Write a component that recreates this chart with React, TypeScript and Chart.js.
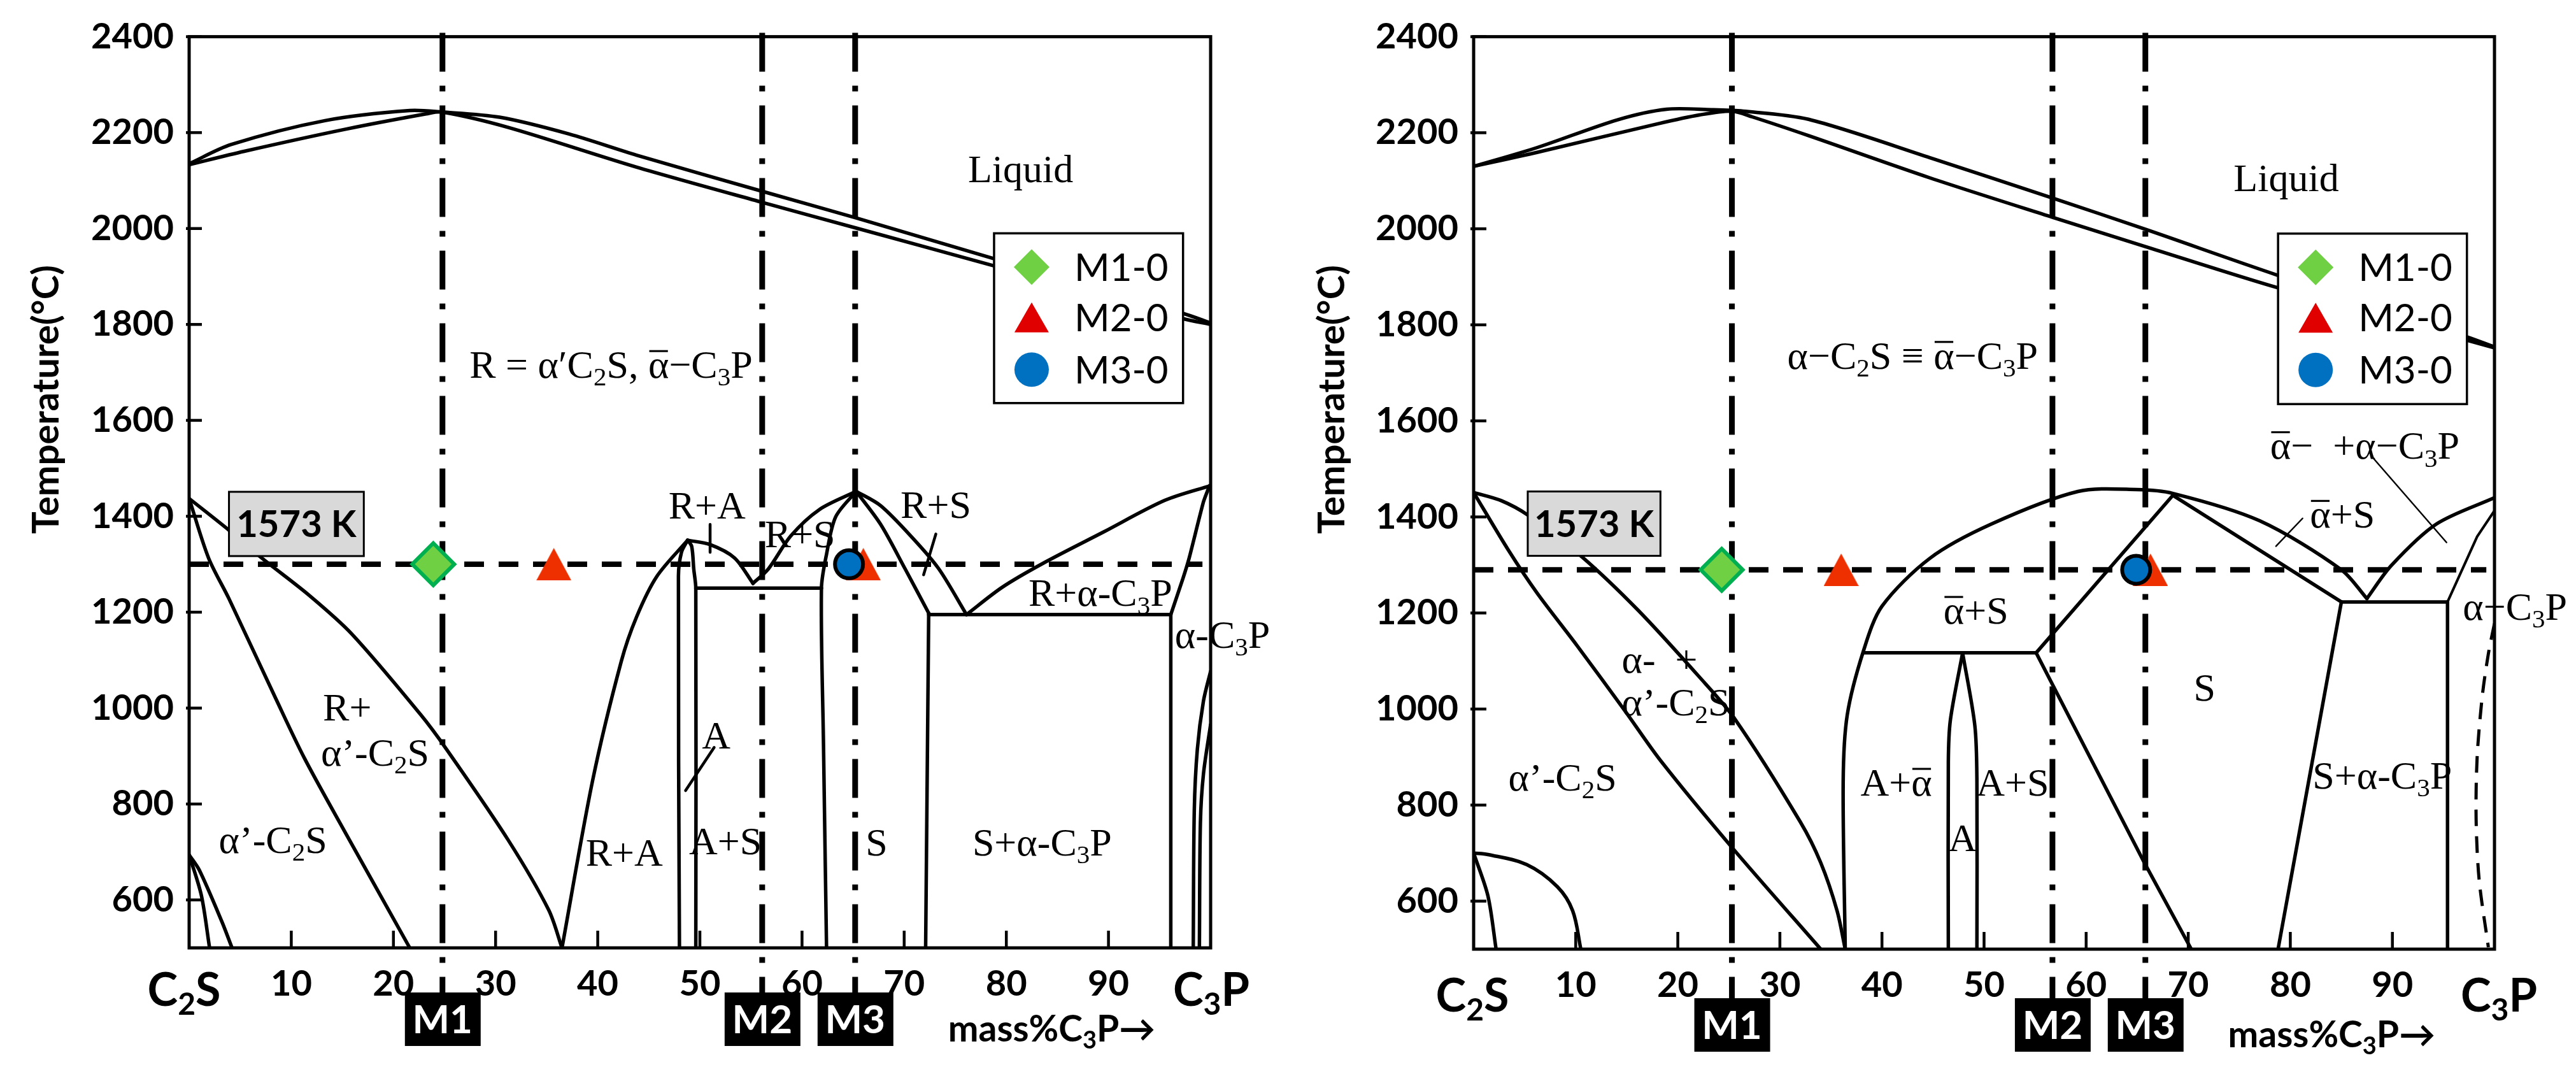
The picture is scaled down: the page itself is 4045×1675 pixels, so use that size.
import React, { useEffect, useRef } from 'react';
import { Chart, registerables } from 'chart.js';
Chart.register(...registerables);

type P = [number, number];

// ---------- shared text / ticks ----------
const xTickValues = [10, 20, 30, 40, 50, 60, 70, 80, 90];
const yTickValues = [600, 800, 1000, 1200, 1400, 1600, 1800, 2000, 2200, 2400];
const seriesNames = ['M1-0', 'M2-0', 'M3-0'];
const sampleNames = ['M1', 'M2', 'M3'];
const endLabels = ['C_2S', 'C_3P'];
const axisTitleX = 'mass%C_3P→';
const axisTitleY = 'Temperature(°C)';
const isoLabel = '1573 K';

// ---------- LEFT panel data ----------
const L_mLines = [24.8, 56.1, 65.2];
const L_isoT = 1300;
const L_M1: P[] = [[23.9, 1300]];
const L_M2: P[] = [[35.7, 1300], [66.0, 1300]];
const L_M3: P[] = [[64.6, 1300]];

const L_liqUpper: P[] = [[0, 2135], [4.1, 2175], [13.3, 2225], [21.6, 2246], [24.7, 2243], [30.4, 2232], [37.2, 2197], [43.8, 2153], [56.2, 2077], [65.3, 2022], [78.8, 1937], [97.3, 1823], [100, 1803]];
const L_liqLower: P[] = [[0, 2133], [5.4, 2161], [15.3, 2207], [23.2, 2239], [24.7, 2243], [31.2, 2211], [43.8, 2128], [56.2, 2054], [65.3, 2001], [78.8, 1922], [97.3, 1812], [100, 1800]];
const L_curveA: P[] = [[0, 1437], [3.9, 1371], [7.1, 1313], [11.7, 1236], [15.9, 1155], [22.6, 988], [25.2, 914], [31.2, 726], [35.2, 579], [36.5, 500]];
const L_curveB: P[] = [[0, 1437], [1.9, 1313], [3.9, 1228], [8.5, 1019], [11.3, 895], [15.3, 740], [21.6, 500]];
const L_low1: P[] = [[0, 694], [1.0, 662], [3.2, 555], [4.2, 500]];
const L_low2: P[] = [[0, 694], [1.2, 609], [2.0, 500]];
const L_RAleft: P[] = [[36.5, 500], [39.5, 849], [42.3, 1097], [43.8, 1190], [45.8, 1275], [48.8, 1350]];
const L_RAright: P[] = [[48.8, 1350], [51.0, 1341], [53.4, 1313], [55.2, 1260]];
const L_RSleft: P[] = [[55.2, 1260], [56.7, 1290], [58.9, 1359], [61.7, 1414], [65.3, 1452]];
const L_RSright: P[] = [[65.3, 1452], [67.7, 1422], [70.9, 1353], [73.4, 1290], [76.1, 1195]];
const L_RaC3P: P[] = [[76.1, 1195], [79.6, 1252], [83.6, 1302], [89.5, 1367], [95.5, 1433], [100, 1464]];
const L_Sleft: P[] = [[65.3, 1452], [63.3, 1399], [62.4, 1321], [61.9, 1250], [62.1, 926], [62.4, 500]];
const L_SrightTop: P[] = [[65.3, 1452], [67.7, 1383], [70.1, 1290], [72.4, 1198]];
const L_SrightV: P[] = [[72.4, 1198], [72.1, 500]];
const L_tie1: P[] = [[49.6, 1250], [61.9, 1250]];
const L_tie2: P[] = [[72.4, 1195], [96.1, 1195]];
const L_Aleft: P[] = [[48.0, 500], [47.9, 1275], [48.2, 1325], [48.8, 1350]];
const L_Aright: P[] = [[49.6, 500], [49.6, 1250], [49.4, 1290], [49.2, 1337], [48.8, 1350]];
const L_vert96: P[] = [[96.1, 1195], [96.1, 500]];
const L_C3Pline: P[] = [[96.1, 1195], [97.3, 1271], [97.9, 1313], [99.3, 1430], [99.9, 1464]];
const L_right1: P[] = [[100, 1077], [99.3, 1015], [98.7, 914], [98.4, 786], [98.3, 500]];
const L_right2: P[] = [[100, 966], [99.3, 863], [99.0, 761], [98.9, 500]];
const L_ptrRA: P[] = [[51.0, 1383], [51.0, 1325]];
const L_ptrA: P[] = [[51.4, 918], [48.6, 828]];
const L_ptrRS: P[] = [[73.1, 1363], [71.9, 1278]];

const L_labels = [
  { t: 'Liquid', x: 81.4, y: 2124, a: 'center' },
  { t: 'R = α′C_2S, ~α−C_3P', x: 41.3, y: 1716, a: 'center' },
  { t: 'R+A', x: 50.7, y: 1422, a: 'center' },
  { t: 'R+S', x: 59.8, y: 1363, a: 'center' },
  { t: 'R+S', x: 73.1, y: 1424, a: 'center' },
  { t: 'R+α-C_3P', x: 89.2, y: 1240, a: 'center' },
  { t: 'α-C_3P', x: 96.5, y: 1153, a: 'left' },
  { t: 'A', x: 51.6, y: 943, a: 'center' },
  { t: 'A+S', x: 52.5, y: 723, a: 'center' },
  { t: 'S', x: 67.3, y: 720, a: 'center' },
  { t: 'S+α-C_3P', x: 83.5, y: 720, a: 'center' },
  { t: 'R+A', x: 42.6, y: 698, a: 'center' },
  { t: 'R+', x: 13.1, y: 1002, a: 'left' },
  { t: 'α’-C_2S', x: 12.9, y: 907, a: 'left' },
  { t: 'α’-C_2S', x: 2.9, y: 725, a: 'left' },
];

// ---------- RIGHT panel data ----------
const R_mLines = [25.3, 56.7, 65.8];
const R_isoT = 1290;
const R_M1: P[] = [[24.3, 1290]];
const R_M2: P[] = [[36.0, 1290], [66.3, 1290]];
const R_M3: P[] = [[64.9, 1290]];

const R_liqUpper: P[] = [[0, 2130], [6.2, 2169], [14.1, 2227], [18.9, 2249], [23.3, 2248], [26.4, 2245], [32.8, 2228], [44.7, 2148], [56.7, 2064], [65.8, 1999], [78.8, 1903], [97.3, 1775], [100, 1754]];
const R_liqLower: P[] = [[0, 2130], [6.2, 2159], [18.1, 2219], [22.1, 2237], [25.3, 2245], [27.3, 2233], [32.8, 2194], [44.7, 2106], [56.7, 2024], [65.8, 1963], [78.8, 1877], [97.3, 1768], [100, 1752]];
const R_curveA: P[] = [[0, 1451], [2.7, 1434], [5.3, 1404], [10.5, 1319], [16.1, 1206], [22.1, 1067], [25.5, 982], [32.0, 765], [34.0, 680], [35.6, 580], [36.4, 500]];
const R_curveB: P[] = [[0, 1451], [3.4, 1331], [6.2, 1242], [10.1, 1133], [14.9, 994], [18.3, 893], [25.3, 712], [34.0, 500]];
const R_low1: P[] = [[0, 700], [1.4, 611], [2.2, 500]];
const R_arc: P[] = [[0, 700], [1.4, 697], [5.2, 676], [8.2, 630], [9.7, 580], [10.5, 500]];
const R_dome: P[] = [[36.4, 500], [36.2, 849], [36.6, 988], [38.2, 1122], [40.0, 1214], [44.7, 1314], [50.7, 1385], [59.2, 1453], [64.9, 1457], [68.5, 1449], [77.0, 1392], [85.0, 1290], [87.5, 1230]];
const R_rightUp: P[] = [[87.5, 1230], [89.9, 1299], [94.3, 1385], [100, 1440]];
const R_tie1: P[] = [[38.2, 1117], [55.1, 1117]];
const R_Sleft: P[] = [[68.5, 1445], [55.1, 1117]];
const R_Sright: P[] = [[68.5, 1445], [85.0, 1223]];
const R_tie2: P[] = [[85.0, 1223], [95.4, 1223]];
const R_SlowLeft: P[] = [[55.1, 1117], [65.7, 680], [70.3, 500]];
const R_SlowRight: P[] = [[85.0, 1223], [78.8, 500]];
const R_vert95: P[] = [[95.4, 1223], [95.4, 500]];
const R_C3Pline: P[] = [[95.4, 1223], [98.3, 1359], [100, 1413]];
const R_dashed: P[] = [[100, 1178], [99.4, 1115], [98.8, 1026], [98.3, 899], [98.2, 771], [98.5, 644], [99.4, 504]];
const R_Aleft: P[] = [[47.9, 1117], [46.7, 977], [46.5, 889], [46.5, 500]];
const R_Aright: P[] = [[47.9, 1117], [49.1, 965], [49.3, 849], [49.3, 500]];
const R_ptr1: P[] = [[81.2, 1397], [78.6, 1339]];
const R_ptr2: P[] = [[88.1, 1523], [95.3, 1347]];

const R_labels = [
  { t: 'Liquid', x: 79.6, y: 2106, a: 'center' },
  { t: 'α−C_2S ≡ ~α−C_3P', x: 43.0, y: 1736, a: 'center' },
  { t: '~α−  +α−C_3P', x: 87.3, y: 1548, a: 'center' },
  { t: '~α+S', x: 85.1, y: 1405, a: 'center' },
  { t: 'α−C_3P', x: 96.9, y: 1213, a: 'left' },
  { t: '~α+S', x: 49.2, y: 1205, a: 'center' },
  { t: 'S', x: 71.6, y: 1044, a: 'center' },
  { t: 'S+α-C_3P', x: 89.0, y: 862, a: 'center' },
  { t: 'A+S', x: 52.8, y: 847, a: 'center' },
  { t: 'A', x: 47.9, y: 731, a: 'center' },
  { t: 'A+~α', x: 41.4, y: 847, a: 'center' },
  { t: 'α-  +', x: 14.5, y: 1103, a: 'left' },
  { t: 'α’-C_2S', x: 14.5, y: 1014, a: 'left' },
  { t: 'α’-C_2S', x: 3.4, y: 858, a: 'left' },
];

// ---------- panel specs ----------
type Curve = { d: P[]; t?: number; w?: number; dash?: number[] };

const leftCurves: Curve[] = [
  { d: L_liqUpper, t: 0.3 }, { d: L_liqLower, t: 0.3 }, { d: L_curveA, t: 0.3 }, { d: L_curveB, t: 0.3 },
  { d: L_low1, t: 0.3 }, { d: L_low2, t: 0.3 }, { d: L_RAleft, t: 0.3 }, { d: L_RAright, t: 0.3 },
  { d: L_RSleft, t: 0.3 }, { d: L_RSright, t: 0.3 }, { d: L_RaC3P, t: 0.3 }, { d: L_Sleft, t: 0.3 },
  { d: L_SrightTop, t: 0.3 }, { d: L_SrightV }, { d: L_tie1 }, { d: L_tie2 }, { d: L_Aleft, t: 0.3 },
  { d: L_Aright, t: 0.3 }, { d: L_vert96 }, { d: L_C3Pline, t: 0.2 }, { d: L_right1, t: 0.3 },
  { d: L_right2, t: 0.3 }, { d: L_ptrRA, w: 4.5 }, { d: L_ptrA, w: 4.5 }, { d: L_ptrRS, w: 4.5 },
];
const rightCurves: Curve[] = [
  { d: R_liqUpper, t: 0.3 }, { d: R_liqLower, t: 0.3 }, { d: R_curveA, t: 0.3 }, { d: R_curveB, t: 0.3 },
  { d: R_low1, t: 0.3 }, { d: R_arc, t: 0.35 }, { d: R_dome, t: 0.3 }, { d: R_rightUp, t: 0.3 },
  { d: R_tie1 }, { d: R_Sleft }, { d: R_Sright }, { d: R_tie2 }, { d: R_SlowLeft }, { d: R_SlowRight },
  { d: R_vert95 }, { d: R_C3Pline, w: 4 }, { d: R_dashed, t: 0.3, w: 5, dash: [26, 16] },
  { d: R_Aleft, t: 0.3 }, { d: R_Aright, t: 0.3 }, { d: R_ptr1, w: 2.5 }, { d: R_ptr2, w: 2.5 },
];

type Spec = {
  id: string; canvasLeft: number; width: number; areaLeft: number; areaRight: number; areaTop: number; areaBottom: number;
  mLines: number[]; isoT: number; m1: P[]; m2: P[]; m3: P[]; curves: Curve[]; labels: any[];
  isoBox: [number, number, number, number]; legendBox: [number, number, number, number];
  mBoxTop: number; endBase: number; c2sDx: number; c3pDx: number; massX: number; massBase: number; yTitleX: number;
};

const H = 1675;
const specs: Spec[] = [
  {
    id: 'L', canvasLeft: 0, width: 2022, areaLeft: 297, areaRight: 1901, areaTop: 40, areaBottom: 1488,
    mLines: L_mLines, isoT: L_isoT, m1: L_M1, m2: L_M2, m3: L_M3, curves: leftCurves, labels: L_labels,
    isoBox: [3.9, 17.1, 1451, 1317], legendBox: [78.8, 97.3, 1990, 1636],
    mBoxTop: 70, endBase: 91, c2sDx: -8, c3pDx: 1, massX: 74.3, massBase: 147, yTitleX: 73,
  },
  {
    id: 'R', canvasLeft: 2022, width: 2023, areaLeft: 292, areaRight: 1895, areaTop: 41, areaBottom: 1490,
    mLines: R_mLines, isoT: R_isoT, m1: R_M1, m2: R_M2, m3: R_M3, curves: rightCurves, labels: R_labels,
    isoBox: [5.3, 18.3, 1453, 1319], legendBox: [78.8, 97.3, 1990, 1635],
    mBoxTop: 77, endBase: 98, c2sDx: -2, c3pDx: 7, massX: 73.9, massBase: 154, yTitleX: 70,
  },
];

// ---------- helpers ----------
const pts = (a: P[]) => a.map(([x, y]) => ({ x, y }));
const SERIF = '"Liberation Serif", "DejaVu Serif", serif';
const SANS = 'Lato, "DejaVu Sans", sans-serif';

function parseRich(text: string) {
  const segs: { ch: string; sub: boolean; bar: boolean }[] = [];
  for (let i = 0; i < text.length; i++) {
    const c = text[i];
    if (c === '_' && i + 1 < text.length) { segs.push({ ch: text[i + 1], sub: true, bar: false }); i++; }
    else if (c === '~' && i + 1 < text.length) { segs.push({ ch: text[i + 1], sub: false, bar: true }); i++; }
    else segs.push({ ch: c, sub: false, bar: false });
  }
  return segs;
}

function drawRich(ctx: CanvasRenderingContext2D, text: string, x: number, base: number, size: number, family: string, weight: string, align: string, color = '#000') {
  const segs = parseRich(text);
  const fN = `${weight} ${size}px ${family}`;
  const fS = `${weight} ${Math.round(size * 0.66)}px ${family}`;
  const ws = segs.map((s) => { ctx.font = s.sub ? fS : fN; return ctx.measureText(s.ch).width; });
  const total = ws.reduce((a, b) => a + b, 0);
  let cx = align === 'center' ? x - total / 2 : align === 'right' ? x - total : x;
  ctx.save();
  ctx.fillStyle = color;
  ctx.textAlign = 'left';
  ctx.textBaseline = 'alphabetic';
  segs.forEach((s, i) => {
    ctx.font = s.sub ? fS : fN;
    ctx.fillText(s.ch, cx, s.sub ? base + size * 0.2 : base);
    if (s.bar) ctx.fillRect(cx + ws[i] * 0.05, base - size * 0.7, ws[i] * 0.9, Math.max(2, size * 0.05));
    cx += ws[i];
  });
  ctx.restore();
}

function makeTriangle(w: number, h: number, color: string) {
  const c = document.createElement('canvas');
  c.width = w; c.height = h;
  const g = c.getContext('2d')!;
  g.fillStyle = color;
  g.beginPath(); g.moveTo(0, h); g.lineTo(w / 2, 0); g.lineTo(w, h); g.closePath(); g.fill();
  return c;
}

function overlayPlugin(spec: Spec) {
  return {
    id: 'overlay' + spec.id,
    beforeDatasetsDraw(chart: any) {
      const { ctx, chartArea: a, scales } = chart;
      const xs = scales.x;
      ctx.save();
      ctx.strokeStyle = '#000';
      ctx.lineWidth = 9;
      ctx.setLineDash([61, 22, 9, 22]);
      spec.mLines.forEach((v) => {
        const px = xs.getPixelForValue(v);
        ctx.beginPath();
        ctx.moveTo(px, a.top - 6);
        ctx.lineTo(px, a.bottom + spec.mBoxTop);
        ctx.stroke();
      });
      ctx.restore();
    },
    afterDatasetsDraw(chart: any) {
      const { ctx, chartArea: a, scales } = chart;
      const xs = scales.x, ys = scales.y;
      ctx.save();
      // frame
      ctx.strokeStyle = '#000';
      ctx.lineWidth = 5;
      ctx.setLineDash([]);
      ctx.strokeRect(a.left, a.top, a.right - a.left, a.bottom - a.top);
      // inward ticks
      ctx.lineWidth = 4.5;
      yTickValues.forEach((v) => {
        const py = ys.getPixelForValue(v);
        ctx.beginPath(); ctx.moveTo(a.left - 5, py); ctx.lineTo(a.left + 20, py); ctx.stroke();
      });
      xTickValues.forEach((v) => {
        const px = xs.getPixelForValue(v);
        ctx.beginPath(); ctx.moveTo(px, a.bottom); ctx.lineTo(px, a.bottom - 27); ctx.stroke();
      });
      // region labels
      spec.labels.forEach((l: any) => {
        const size = 62;
        drawRich(ctx, l.t, xs.getPixelForValue(l.x), ys.getPixelForValue(l.y) + size * 0.33, size, SERIF, 'normal', l.a);
      });
      // 1573 K box
      const [bx0, bx1, by0, by1] = spec.isoBox;
      const X0 = xs.getPixelForValue(bx0), X1 = xs.getPixelForValue(bx1);
      const Y0 = ys.getPixelForValue(by0), Y1 = ys.getPixelForValue(by1);
      ctx.fillStyle = '#d9d9d9';
      ctx.fillRect(X0, Y0, X1 - X0, Y1 - Y0);
      ctx.lineWidth = 3;
      ctx.strokeRect(X0, Y0, X1 - X0, Y1 - Y0);
      ctx.fillStyle = '#000';
      ctx.font = `bold 58px ${SANS}`;
      ctx.textAlign = 'center';
      ctx.textBaseline = 'middle';
      ctx.fillText(isoLabel, (X0 + X1) / 2, (Y0 + Y1) / 2 + 2);
      // legend
      const [lx0, lx1, ly0, ly1] = spec.legendBox;
      const LX0 = xs.getPixelForValue(lx0), LX1 = xs.getPixelForValue(lx1);
      const LY0 = ys.getPixelForValue(ly0), LY1 = ys.getPixelForValue(ly1);
      ctx.fillStyle = '#fff';
      ctx.fillRect(LX0, LY0, LX1 - LX0, LY1 - LY0);
      ctx.lineWidth = 3.5;
      ctx.strokeRect(LX0, LY0, LX1 - LX0, LY1 - LY0);
      const mx = LX0 + 59;
      const rows = [LY0 + 53, LY0 + 132, LY0 + 214];
      ctx.fillStyle = '#70d044';
      ctx.beginPath();
      ctx.moveTo(mx, rows[0] - 28); ctx.lineTo(mx + 28, rows[0]); ctx.lineTo(mx, rows[0] + 28); ctx.lineTo(mx - 28, rows[0]); ctx.closePath(); ctx.fill();
      ctx.fillStyle = '#e00000';
      ctx.beginPath();
      ctx.moveTo(mx - 27, rows[1] + 23.5); ctx.lineTo(mx, rows[1] - 23.5); ctx.lineTo(mx + 27, rows[1] + 23.5); ctx.closePath(); ctx.fill();
      ctx.fillStyle = '#0070c0';
      ctx.beginPath(); ctx.arc(mx, rows[2], 27, 0, Math.PI * 2); ctx.fill();
      ctx.fillStyle = '#000';
      ctx.font = `normal 60px ${SANS}`;
      ctx.textAlign = 'left';
      ctx.textBaseline = 'middle';
      seriesNames.forEach((n, i) => ctx.fillText(n, LX0 + 126, rows[i] + 2));
      ctx.restore();
    },
    afterDraw(chart: any) {
      const { ctx, chartArea: a, scales } = chart;
      const xs = scales.x;
      ctx.save();
      spec.mLines.forEach((v, i) => {
        const px = xs.getPixelForValue(v);
        const top = a.bottom + spec.mBoxTop;
        ctx.fillStyle = '#000';
        ctx.fillRect(px - 59, top, 119, 84);
        ctx.fillStyle = '#fff';
        ctx.font = `bold 62px ${SANS}`;
        ctx.textAlign = 'center';
        ctx.textBaseline = 'middle';
        ctx.fillText(sampleNames[i], px, top + 44);
      });
      drawRich(ctx, endLabels[0], a.left + spec.c2sDx, a.bottom + spec.endBase, 72, SANS, 'bold', 'center');
      drawRich(ctx, endLabels[1], a.right + spec.c3pDx, a.bottom + spec.endBase, 72, SANS, 'bold', 'center');
      drawRich(ctx, axisTitleX, xs.getPixelForValue(spec.massX), a.bottom + spec.massBase, 57, SANS, 'bold', 'left');
      ctx.translate(spec.yTitleX, 627);
      ctx.rotate(-Math.PI / 2);
      ctx.fillStyle = '#000';
      ctx.font = `bold 58px ${SANS}`;
      ctx.textAlign = 'center';
      ctx.textBaseline = 'middle';
      ctx.fillText(axisTitleY, 0, 0);
      ctx.restore();
    },
  };
}

function Panel({ spec }: { spec: Spec }) {
  const ref = useRef<HTMLCanvasElement | null>(null);
  useEffect(() => {
    if (!ref.current) return;
    const tri = makeTriangle(55, 51, '#ee3000');
    const datasets: any[] = [];
    datasets.push({
      label: seriesNames[0], data: pts(spec.m1), pointStyle: 'rectRot', pointRadius: 33,
      backgroundColor: '#70d044', borderColor: '#00b050', borderWidth: 6, showLine: false, order: 3,
    });
    datasets.push({
      label: seriesNames[1], data: pts(spec.m2), pointStyle: tri, pointRadius: 27,
      backgroundColor: '#ee3000', borderWidth: 0, showLine: false, order: 2,
    });
    datasets.push({
      label: seriesNames[2], data: pts(spec.m3), pointStyle: 'circle', pointRadius: 22,
      backgroundColor: '#0070c0', borderColor: '#000', borderWidth: 6, showLine: false, order: 1,
    });
    datasets.push({
      label: 'iso', data: pts([[0, spec.isoT], [99.2, spec.isoT]]), showLine: true, pointRadius: 0,
      borderColor: '#000', borderWidth: 8.5, borderDash: [31, 23], order: 20, borderCapStyle: 'butt',
    });
    spec.curves.forEach((c, i) => {
      datasets.push({
        label: 'c' + i, data: pts(c.d), showLine: true, pointRadius: 0, borderColor: '#000',
        borderWidth: c.w ?? 5.5, tension: c.t ?? 0, borderDash: c.dash ?? [], order: 30,
        borderJoinStyle: 'round', borderCapStyle: c.dash ? 'butt' : 'round', fill: false,
      });
    });
    const chart = new Chart(ref.current, {
      type: 'scatter',
      data: { datasets },
      options: {
        animation: false,
        responsive: false,
        devicePixelRatio: 1,
        events: [],
        layout: { padding: { left: 0, top: spec.areaTop, right: spec.width - spec.areaRight, bottom: 0 } },
        plugins: { legend: { display: false }, tooltip: { enabled: false } },
        scales: {
          x: {
            type: 'linear', min: 0, max: 100,
            grid: { display: false, drawTicks: false }, border: { display: false },
            afterBuildTicks: (ax: any) => { ax.ticks = xTickValues.map((v) => ({ value: v })); },
            afterFit: (ax: any) => { ax.height = H - spec.areaBottom; },
            ticks: {
              font: { family: SANS, weight: 'bold', size: 56 }, color: '#000', padding: 23, maxRotation: 0, autoSkip: false,
              callback: (v: any) => String(v),
            },
          },
          y: {
            type: 'linear', min: 500, max: 2400,
            grid: { display: false, drawTicks: false }, border: { display: false },
            afterBuildTicks: (ax: any) => { ax.ticks = yTickValues.map((v) => ({ value: v })); },
            afterFit: (ax: any) => { ax.width = spec.areaLeft; },
            ticks: {
              font: { family: SANS, weight: 'bold', size: 56 }, color: '#000', padding: 24, autoSkip: false,
              callback: (v: any) => String(v),
            },
          },
        },
      } as any,
      plugins: [overlayPlugin(spec)],
    });
    return () => chart.destroy();
  }, [spec]);
  return (
    <canvas
      ref={ref}
      width={spec.width}
      height={H}
      style={{ position: 'absolute', left: spec.canvasLeft, top: 0, width: spec.width, height: H }}
    />
  );
}

export default function App() {
  return (
    <div style={{ position: 'absolute', left: 0, top: 0, width: 4045, height: H, background: '#fff', overflow: 'hidden' }}>
      {specs.map((s) => <Panel key={s.id} spec={s} />)}
    </div>
  );
}
